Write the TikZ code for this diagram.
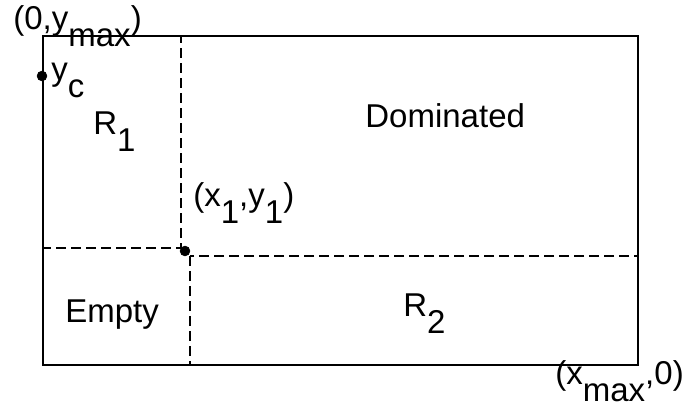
\documentclass[tikz,border=0pt]{standalone}
\usepackage{fontspec}
\setmainfont{Liberation Sans}
\newcommand\lowsub[1]{\raisebox{-0.5em}{#1}}

\begin{document}
\begin{tikzpicture}[x=0.5pt,y=-0.5pt,
    lbl/.style={inner sep=0pt, anchor=base west, font=\fontsize{16.5}{20}\selectfont}]
    \useasboundingbox (0,0) rectangle (686,406);
    \coordinate (O) at (43,365);
    \coordinate (C) at (638,36);
    \coordinate (T) at (43,36);
    \coordinate (A) at (181,248);
    \coordinate (B) at (190,256);
    \coordinate (M) at (638,365);
    \coordinate (P) at (185,251);
    \coordinate (Yc) at (42,76);
    \draw[thick] (O) rectangle (C);
    \draw[semithick, dashed, dash pattern=on 5pt off 2.5pt] (T) rectangle (A);
    \draw[semithick, dashed, dash pattern=on 5pt off 2.5pt] (B) rectangle (M);
    \filldraw (P) circle (2.4pt);
    \filldraw (Yc) circle (2.4pt);
    \node[lbl] (ymax) at (13,30) {(0,y\lowsub{max})};
    \node[lbl] (yc) at (51,81) {y\lowsub{c}};
    \node[lbl] (r1) at (93,135) {R\lowsub{1}};
    \node[lbl] (dom) at (365,128) {Dominated};
    \node[lbl] (p1) at (193,207) {(x\lowsub{1},y\lowsub{1})};
    \node[lbl] (empty) at (65,323) {Empty};
    \node[lbl] (r2) at (403,317) {R\lowsub{2}};
    \node[lbl] (xmax) at (555,385) {(x\lowsub{max},0)};
\end{tikzpicture}
\end{document}
